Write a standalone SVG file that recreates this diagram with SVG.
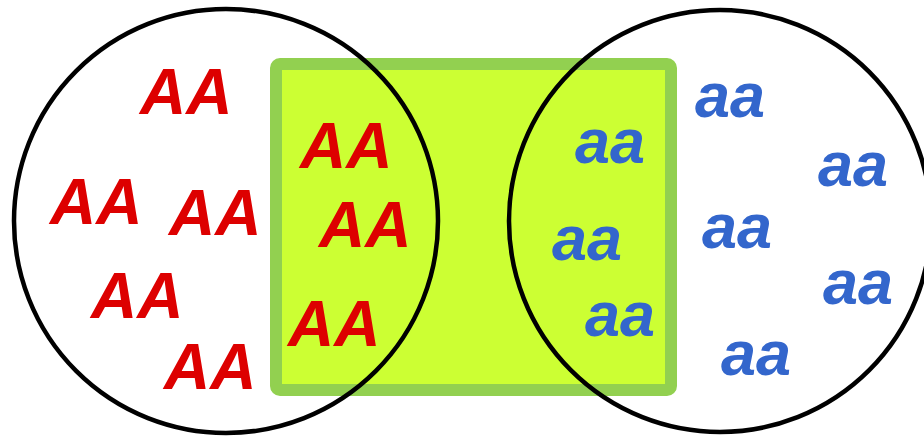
<svg xmlns="http://www.w3.org/2000/svg" width="924" height="437" viewBox="0 0 924 437">
<style>
.AA{font-family:"Liberation Sans",Arial,sans-serif;font-weight:bold;font-style:italic;font-size:64px;fill:#dd0000}
.aa{font-family:"Liberation Sans",Arial,sans-serif;font-weight:bold;font-style:italic;font-size:63px;fill:#3366cc}
.ring{fill:none;stroke:#000;stroke-width:4.5}
</style>
<rect width="924" height="437" fill="#fff"/>
<g id="box"><rect x="276" y="64" width="395" height="326" rx="4" fill="#ccff33" stroke="#92d050" stroke-width="12"/></g>
<g id="circleLeft"><circle class="ring" cx="226" cy="221" r="212"/></g>
<g id="circleRight"><circle class="ring" cx="720" cy="221" r="211"/></g>
<g id="labelsAA">
<text class="AA" x="140" y="114">AA</text>
<text class="AA" x="300" y="168">AA</text>
<text class="AA" x="50" y="224">AA</text>
<text class="AA" x="169" y="235">AA</text>
<text class="AA" x="319" y="247">AA</text>
<text class="AA" x="91" y="318">AA</text>
<text class="AA" x="288" y="346">AA</text>
<text class="AA" x="164" y="389">AA</text>
</g>
<g id="labelsaa">
<text class="aa" x="695" y="117">aa</text>
<text class="aa" x="575" y="163">aa</text>
<text class="aa" x="818" y="186">aa</text>
<text class="aa" x="552" y="260">aa</text>
<text class="aa" x="702" y="248">aa</text>
<text class="aa" x="823" y="304">aa</text>
<text class="aa" x="585" y="336">aa</text>
<text class="aa" x="721" y="375">aa</text>
</g>
</svg>
